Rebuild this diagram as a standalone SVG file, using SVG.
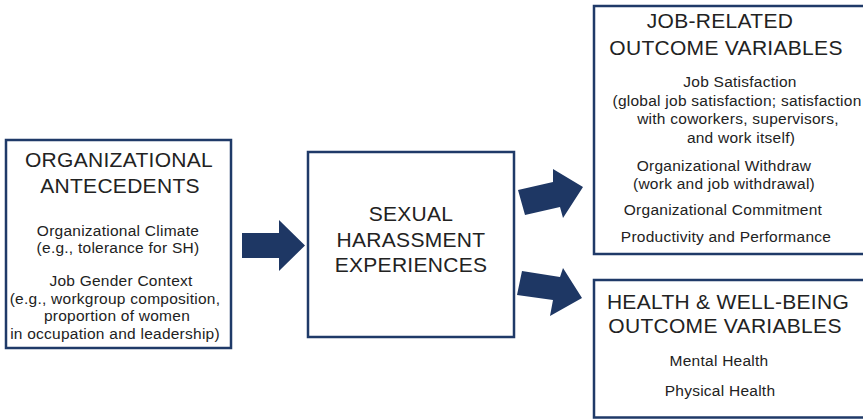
<svg xmlns="http://www.w3.org/2000/svg" width="863" height="419" viewBox="0 0 863 419">
<style>
.box{fill:#fff;stroke:#1f3a68;stroke-width:2.5}
.arrow{fill:#1e3764}
text{font-family:"Liberation Sans",Arial,sans-serif;fill:#222;text-anchor:middle}
.t{font-size:21px;letter-spacing:0.3px}
.s{font-size:15.5px;letter-spacing:0.25px}
</style>
<rect width="863" height="419" fill="#fff"/>
<g id="antecedents">
<rect class="box" x="6" y="140" width="225" height="208"/>
<text class="t" x="119" y="167">ORGANIZATIONAL</text>
<text class="t" x="120" y="193">ANTECEDENTS</text>
<text class="s" x="118" y="236">Organizational Climate</text>
<text class="s" x="118" y="253">(e.g., tolerance for SH)</text>
<text class="s" x="121" y="286">Job Gender Context</text>
<text class="s" x="115" y="304">(e.g., workgroup composition,</text>
<text class="s" x="117" y="321">proportion of women</text>
<text class="s" x="115" y="339">in occupation and leadership)</text>
</g>
<g id="experiences">
<rect class="box" x="308" y="152" width="206" height="185"/>
<text class="t" x="411" y="221">SEXUAL</text>
<text class="t" x="411" y="247">HARASSMENT</text>
<text class="t" x="411" y="272">EXPERIENCES</text>
</g>
<g id="job-outcomes">
<rect class="box" x="594" y="6" width="272" height="248"/>
<text class="t" x="720" y="28">JOB-RELATED</text>
<text class="t" x="726" y="55">OUTCOME VARIABLES</text>
<text class="s" x="740" y="87">Job Satisfaction</text>
<text class="s" x="737" y="106">(global job satisfaction; satisfaction</text>
<text class="s" x="738" y="124">with coworkers, supervisors,</text>
<text class="s" x="741" y="143">and work itself)</text>
<text class="s" x="724" y="171">Organizational Withdraw</text>
<text class="s" x="724" y="189">(work and job withdrawal)</text>
<text class="s" x="723" y="215">Organizational Commitment</text>
<text class="s" x="726" y="242">Productivity and Performance</text>
</g>
<g id="health-outcomes">
<rect class="box" x="594" y="280" width="272" height="137.5"/>
<text class="t" x="728" y="309">HEALTH &amp; WELL-BEING</text>
<text class="t" x="725" y="333">OUTCOME VARIABLES</text>
<text class="s" x="719" y="366">Mental Health</text>
<text class="s" x="720" y="396">Physical Health</text>
</g>
<g id="connectors">
<polygon class="arrow" points="242,233 279,233 279,220 305,245.5 279,271 279,258 242,258"/>
<polygon class="arrow" points="518,190 553,182 553,169 583,187 563,218 560,207 525,215"/>
<polygon class="arrow" points="522,271 560,277 563,268 582,298 550,316 553,300 517,295"/>
</g>
</svg>
